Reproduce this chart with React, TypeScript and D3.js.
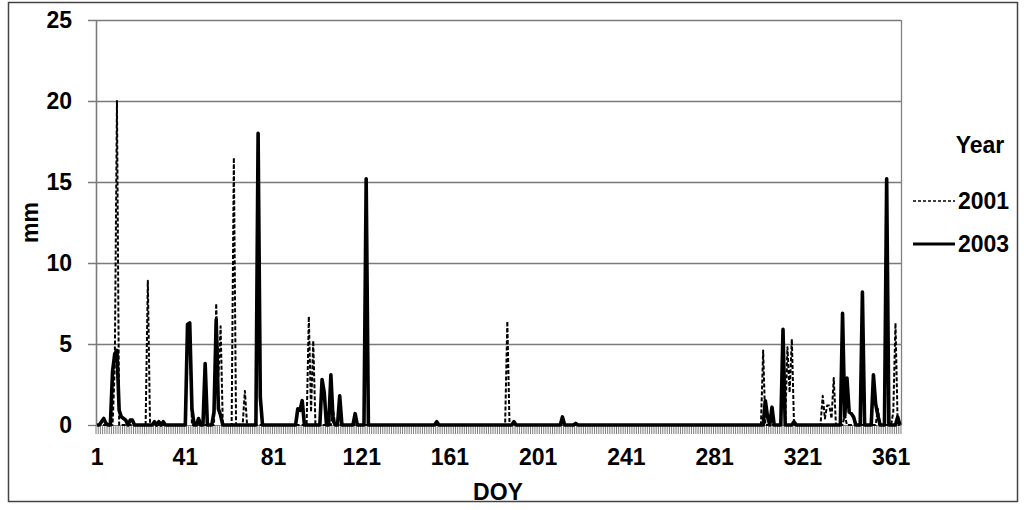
import * as React from "react";
import { useRef, useEffect } from "react";
import * as d3 from "d3";

// DOY categories 1..365
const doy = d3.range(1, 366);
const xTickLabels = [1, 41, 81, 121, 161, 201, 241, 281, 321, 361];
const yTicks = [0, 5, 10, 15, 20, 25];

// rainy days only (all other days are 0 mm)
const days2001 = [9, 10, 24, 42, 43, 55, 56, 57, 63, 68, 97, 98, 99, 108, 187, 303, 314, 315, 316, 330, 331, 332, 333, 334, 335, 340, 355, 362, 363];
const mm2001 = [3.5, 20, 8.9, 5.6, 6.1, 7.5, 3.0, 6.1, 16.5, 2.1, 6.7, 0.8, 5.2, 0.9, 6.4, 4.6, 4.8, 2.0, 5.3, 1.8, 0.4, 1.2, 1.2, 0.4, 2.9, 0.6, 1.0, 0.8, 6.3];

const days2003 = [3, 4, 5, 8, 9, 10, 11, 12, 13, 14, 16, 17, 27, 29, 31, 42, 43, 44, 47, 50, 54, 55, 56, 57, 74, 75, 92, 93, 94, 103, 104, 107, 108, 111, 118, 123, 155, 190, 212, 218, 304, 305, 307, 312, 317, 339, 340, 341, 342, 343, 344, 348, 353, 354, 355, 359, 364];
const mm2003 = [0.2, 0.4, 0.1, 3.3, 4.4, 4.6, 0.9, 0.5, 0.4, 0.3, 0.3, 0.3, 0.2, 0.2, 0.2, 6.2, 6.3, 1.0, 0.4, 3.8, 0.8, 6.5, 1.0, 0.6, 18, 1.7, 1.0, 0.9, 1.5, 2.8, 2.0, 3.1, 0.3, 1.8, 0.7, 15.2, 0.2, 0.2, 0.5, 0.1, 1.5, 0.5, 1.1, 5.9, 0.2, 6.9, 0.5, 2.9, 0.8, 0.7, 0.5, 8.2, 3.1, 1.3, 0.6, 15.2, 0.5];

const series = [
  { name: "2001", days: days2001, values: mm2001, width: 2, dash: "4,2" },
  { name: "2003", days: days2003, values: mm2003, width: 3.6, dash: null },
];

const W = 1024;
const H = 510;
const FONT = "Arial, 'Liberation Sans', sans-serif";
const FS = 23;

export default function App() {
  const svgRef = useRef(null);

  useEffect(() => {
    const svg = d3.select(svgRef.current);
    svg.selectAll("*").remove();

    const left = 96, right = 901, top = 20, bottom = 425;

    const x = d3.scaleBand().domain(doy).range([left, right]).padding(0);
    const y = d3.scaleLinear().domain([0, 25]).range([bottom, top]);
    const cx = (d) => x(d) + x.bandwidth() / 2;

    // outer border
    svg.append("rect")
      .attr("x", 8.5).attr("y", 2.5)
      .attr("width", 1009).attr("height", 499)
      .attr("fill", "#fff").attr("stroke", "#444").attr("stroke-width", 1.5);

    // gridlines + y tick marks
    const grid = svg.append("g");
    yTicks.slice(1).forEach((t) => {
      grid.append("line")
        .attr("x1", left - 8).attr("x2", right)
        .attr("y1", y(t) + 0.5).attr("y2", y(t) + 0.5)
        .attr("stroke", "#7a7a7a").attr("stroke-width", 1.3);
    });
    grid.append("line")
      .attr("x1", left - 8).attr("x2", left)
      .attr("y1", bottom + 0.5).attr("y2", bottom + 0.5)
      .attr("stroke", "#7a7a7a").attr("stroke-width", 1.3);
    // plot area right edge
    grid.append("line")
      .attr("x1", right + 0.5).attr("x2", right + 0.5)
      .attr("y1", top).attr("y2", bottom)
      .attr("stroke", "#808080").attr("stroke-width", 1.3);
    // y axis line
    grid.append("line")
      .attr("x1", left + 0.5).attr("x2", left + 0.5)
      .attr("y1", top).attr("y2", bottom)
      .attr("stroke", "#7a7a7a").attr("stroke-width", 1.6);

    // x tick marks, one per category boundary
    const bounds = doy.map((d) => x(d)).concat([right]);
    svg.append("g").selectAll("line").data(bounds).enter().append("line")
      .attr("x1", (d) => d).attr("x2", (d) => d)
      .attr("y1", bottom).attr("y2", bottom + 9)
      .attr("stroke", "#6e6e6e").attr("stroke-width", 0.9);
    svg.append("line")
      .attr("x1", left).attr("x2", right)
      .attr("y1", bottom + 0.5).attr("y2", bottom + 0.5)
      .attr("stroke", "#808080");

    // y tick labels
    svg.append("g").selectAll("text").data(yTicks).enter().append("text")
      .attr("x", 72).attr("y", (d) => y(d))
      .attr("dy", "0.36em")
      .attr("text-anchor", "end")
      .attr("font-family", FONT).attr("font-weight", "bold").attr("font-size", FS)
      .text((d) => d);

    // x tick labels
    svg.append("g").selectAll("text").data(xTickLabels).enter().append("text")
      .attr("x", (d) => cx(d)).attr("y", 465)
      .attr("text-anchor", "middle")
      .attr("font-family", FONT).attr("font-weight", "bold").attr("font-size", FS)
      .text((d) => d);

    // axis titles
    svg.append("text")
      .attr("x", 498).attr("y", 500)
      .attr("text-anchor", "middle")
      .attr("font-family", FONT).attr("font-weight", "bold").attr("font-size", FS)
      .text("DOY");
    svg.append("text")
      .attr("transform", `translate(38,${(top + bottom) / 2}) rotate(-90)`)
      .attr("text-anchor", "middle")
      .attr("font-family", FONT).attr("font-weight", "bold").attr("font-size", FS)
      .text("mm");

    // lines
    const line = d3.line().x((d) => cx(d[0])).y((d) => y(d[1]));
    series.forEach((s) => {
      const lookup = new Map(s.days.map((d, i) => [d, s.values[i]]));
      const pts = doy.map((d) => [d, lookup.get(d) ?? 0]);
      svg.append("path")
        .datum(pts)
        .attr("fill", "none")
        .attr("stroke", "#000")
        .attr("stroke-width", s.width)
        .attr("stroke-linejoin", "round")
        .attr("stroke-dasharray", s.dash)
        .attr("d", line);
    });

    // legend
    const lg = svg.append("g").attr("font-family", FONT).attr("font-weight", "bold").attr("font-size", FS);
    lg.append("text").attr("x", 980).attr("y", 153).attr("text-anchor", "middle").text("Year");
    series.forEach((s, i) => {
      const ly = 201 + i * 43;
      lg.append("line")
        .attr("x1", 913).attr("x2", 955)
        .attr("y1", ly).attr("y2", ly)
        .attr("stroke", "#000")
        .attr("stroke-width", s.dash ? 1.5 : 3.2)
        .attr("stroke-dasharray", s.dash ? "3,2" : null);
      lg.append("text").attr("x", 958).attr("y", ly + 8).text(s.name);
    });
  }, []);

  return (
    <svg
      ref={svgRef}
      width={W}
      height={H}
      style={{ position: "absolute", left: 0, top: 0, background: "#fff" }}
    ></svg>
  );
}
